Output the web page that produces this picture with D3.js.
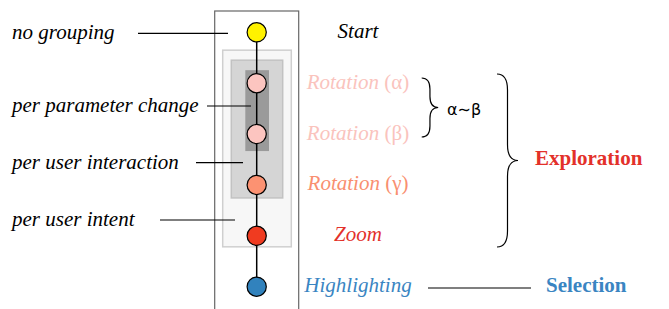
<!DOCTYPE html>
<html>
<head>
<meta charset="utf-8">
<script src="https://cdn.jsdelivr.net/npm/d3@7"></script>
<style>
  body { margin: 0; background: #fff; }
  svg { display: block; }
</style>
</head>
<body>
<svg id="diagram" width="669" height="309"></svg>
<script>
// steps of the interaction log, top to bottom
const steps = ["Start", "Rotation (α)", "Rotation (β)", "Rotation (γ)", "Zoom", "Highlighting"];
const stepColors = ["#fff200", "#fcc5c0", "#fcc5c0", "#fc9272", "#f03b20", "#3182bd"];
const labelColors = ["#000000", "#fac3bd", "#fac3bd", "#f98f70", "#e3312a", "#3a85c2"];

// grouping levels on the left
const groupLabels = ["no grouping", "per parameter change", "per user interaction", "per user intent"];

// summaries on the right
const tasks = ["Exploration", "Selection"];
const taskColors = ["#e3312a", "#3a85c2"];
const similarity = "α∼β";

const SERIF = "'Liberation Serif', 'DejaVu Serif', 'Times New Roman', serif";

const svg = d3.select("#diagram");

let y = d3.scalePoint()
    .domain(steps)
    .range([32.3, 286.7]);

let cx = 256.7;
let r = 9.6;

// grouping boxes
let boxes = [
    { from: 1, to: 4, x0: 222.7, x1: 291.3, top: 33, bot: 11, fill: "#f7f7f7", stroke: "#cfcfcf" },
    { from: 1, to: 3, x0: 231.3, x1: 282.7, top: 23, bot: 13, fill: "#d5d5d5", stroke: "#c2c2c2" },
    { from: 1, to: 2, x0: 245.3, x1: 269, top: 13, bot: 17, fill: "#9a9a9a", stroke: "none" }
];

// outer frame
svg.append("rect")
    .attr("x", 214.7).attr("y", 11)
    .attr("width", 84).attr("height", 320)
    .attr("fill", "none").attr("stroke", "#666").attr("stroke-width", 1.2);

svg.selectAll(".box")
    .data(boxes)
    .enter()
    .append("rect")
        .attr("x", d => d.x0)
        .attr("y", d => y(steps[d.from]) - d.top)
        .attr("width", d => d.x1 - d.x0)
        .attr("height", d => y(steps[d.to]) + d.bot - (y(steps[d.from]) - d.top))
        .attr("fill", d => d.fill)
        .attr("stroke", d => d.stroke)
        .attr("stroke-width", 1.5);

// left labels with leader lines
let leaders = [
    { ly: 33.3, x1: 138, x2: 228 },
    { ly: 106, x1: 207, x2: 251 },
    { ly: 162.7, x1: 196, x2: 243 },
    { ly: 220, x1: 160, x2: 235 }
];

svg.selectAll(".lead")
    .data(leaders)
    .enter()
    .append("line")
        .attr("x1", d => d.x1).attr("x2", d => d.x2)
        .attr("y1", d => d.ly).attr("y2", d => d.ly)
        .attr("stroke", "#000").attr("stroke-width", 1.2);

svg.selectAll(".glabel")
    .data(groupLabels)
    .enter()
    .append("text")
        .attr("x", 12)
        .attr("y", (d, i) => leaders[i].ly + 6)
        .style("font-family", SERIF)
        .style("font-size", "21px")
        .style("font-style", "italic")
        .text(d => d);

// spine
svg.append("line")
    .attr("x1", cx).attr("x2", cx)
    .attr("y1", y(steps[0])).attr("y2", y(steps[steps.length - 1]))
    .attr("stroke", "#000").attr("stroke-width", 1.5);

svg.selectAll(".step")
    .data(steps)
    .enter()
    .append("circle")
        .attr("cx", cx)
        .attr("cy", d => y(d))
        .attr("r", r)
        .attr("fill", (d, i) => stepColors[i])
        .attr("stroke", "#000")
        .attr("stroke-width", 1.2);

svg.selectAll(".slabel")
    .data(steps)
    .enter()
    .append("text")
        .attr("x", 358)
        .attr("y", d => y(d) + 5.5)
        .attr("text-anchor", "middle")
        .style("font-family", SERIF)
        .style("font-size", "21px")
        .style("font-style", "italic")
        .attr("fill", (d, i) => labelColors[i])
        .each(function (d) {
            // greek letters in parentheses are upright
            let m = d.match(/^(.*?)(\s*\(.*\))$/);
            let t = d3.select(this);
            if (m) {
                t.append("tspan").text(m[1]);
                t.append("tspan").style("font-style", "normal").text(m[2]);
            } else {
                t.text(d);
            }
        });

// vertical curly brace opening to the left, tip pointing right
function brace(x0, yTop, yBot, w, rv) {
    let xm = x0 + w / 2, ym = (yTop + yBot) / 2, xt = x0 + w;
    return "M" + x0 + "," + yTop +
        " Q" + xm + "," + yTop + " " + xm + "," + (yTop + rv) +
        " L" + xm + "," + (ym - rv) +
        " Q" + xm + "," + ym + " " + xt + "," + ym +
        " Q" + xm + "," + ym + " " + xm + "," + (ym + rv) +
        " L" + xm + "," + (yBot - rv) +
        " Q" + xm + "," + yBot + " " + x0 + "," + yBot;
}

svg.append("path")
    .attr("d", brace(421.7, 78, 137, 16.5, 11))
    .attr("fill", "none").attr("stroke", "#000").attr("stroke-width", 1.2);

svg.append("text")
    .attr("x", 447).attr("y", 115)
    .style("font-family", "'DejaVu Sans', sans-serif")
    .style("font-size", "16px")
    .text(similarity);

svg.append("path")
    .attr("d", brace(497, 74, 247, 21, 16))
    .attr("fill", "none").attr("stroke", "#000").attr("stroke-width", 1.2);

svg.append("line")
    .attr("x1", 428).attr("x2", 531)
    .attr("y1", 288).attr("y2", 288)
    .attr("stroke", "#000").attr("stroke-width", 1.2);

svg.selectAll(".task")
    .data(tasks)
    .enter()
    .append("text")
        .attr("x", (d, i) => [535, 546][i])
        .attr("y", (d, i) => [165, 292][i])
        .style("font-family", SERIF)
        .style("font-size", "21px")
        .style("font-weight", "bold")
        .attr("fill", (d, i) => taskColors[i])
        .text(d => d);
</script>
</body>
</html>
